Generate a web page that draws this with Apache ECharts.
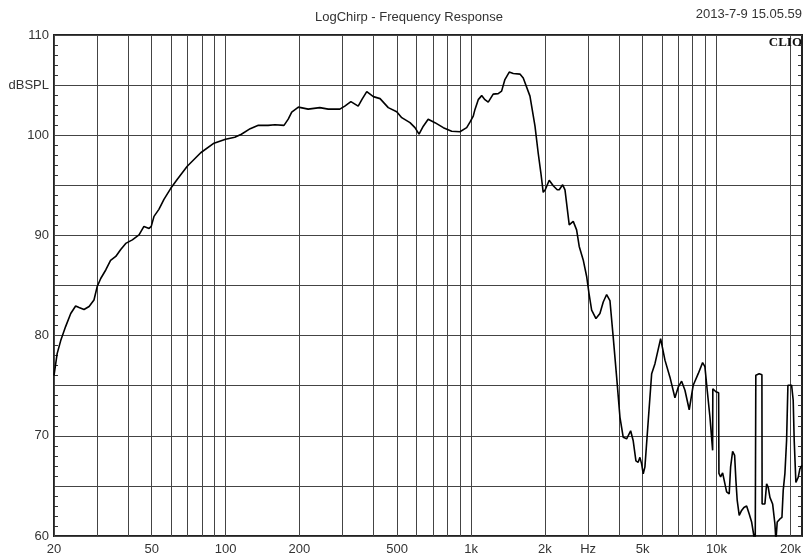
<!DOCTYPE html>
<html>
<head>
<meta charset="utf-8">
<script src="https://cdn.jsdelivr.net/npm/echarts@6/dist/echarts.min.js"></script>
<style>
html,body{margin:0;padding:0;background:#fff;}
#chart{width:808px;height:558px;}
</style>
</head>
<body>
<div id="chart"></div>
<script>
// Frequency (Hz)
const freqs = [
  20, 20.6, 21.3, 22.3, 23.4, 24.5, 25.3, 26.5, 27.8, 29.1,
  30.0, 31.0, 32.5, 34.0, 35.7, 37.4, 39.2, 41.7, 44.4, 46.5,
  48.8, 49.8, 51.1, 53.5, 56.1, 59.8, 63.6, 69.8, 79.2, 89.7,
  100, 109, 116, 126, 136, 149, 159, 173, 180, 186,
  198, 217, 242, 262, 292, 306, 324, 347, 360, 376,
  400, 426, 460, 498, 522, 564, 591, 614, 639, 669,
  713, 771, 834, 901, 960, 990, 1021, 1037, 1070, 1105,
  1139, 1175, 1231, 1290, 1332, 1374, 1431, 1486, 1582, 1632,
  1738, 1822, 1878, 1926, 1968, 2006, 2082, 2162, 2244, 2287,
  2362, 2414, 2512, 2608, 2692, 2759, 2864, 2958, 3022, 3100,
  3228, 3350, 3456, 3568, 3680, 3795, 3919, 4043, 4169, 4304,
  4469, 4578, 4696, 4797, 4875, 4954, 5029, 5110, 5273, 5443,
  5614, 5921, 6166, 6462, 6771, 6982, 7210, 7438, 7742, 8038,
  8424, 8778, 8969, 9165, 9400, 9643, 9660, 9944, 10200, 10230,
  10394, 10590, 10720, 10995, 11266, 11416, 11632, 11852, 11996, 12144,
  12374, 12656, 12932, 13264, 13592, 13900, 14202, 14376, 14440, 14460,
  14926, 15310, 15340, 15746, 16002, 16244, 16506, 16928, 17298, 17460,
  17674, 18128, 18472, 18698, 18998, 19300, 19540, 19776, 20226, 20532,
  20726, 21058, 21518, 21864, 22276
];
// Sound pressure level (dBSPL)
const spl = [
  76.0, 78.2, 79.5, 80.9, 82.2, 82.95, 82.8, 82.6, 82.9, 83.55,
  84.9, 85.7, 86.55, 87.5, 87.9, 88.6, 89.2, 89.55, 90.05, 90.9,
  90.7, 90.9, 91.9, 92.6, 93.6, 94.7, 95.6, 96.9, 98.25, 99.2,
  99.6, 99.8, 100.1, 100.65, 101.0, 100.98, 101.05, 100.98, 101.6, 102.3,
  102.8, 102.6, 102.75, 102.6, 102.6, 102.9, 103.35, 102.9, 103.6, 104.35,
  103.85, 103.65, 102.75, 102.35, 101.75, 101.25, 100.75, 100.1, 100.9, 101.6,
  101.25, 100.75, 100.4, 100.35, 100.75, 101.3, 101.9, 102.55, 103.55, 103.95,
  103.55, 103.3, 104.1, 104.15, 104.4, 105.55, 106.3, 106.15, 106.1, 105.7,
  103.9, 100.9, 98.2, 96.2, 94.3, 94.55, 95.5, 94.95, 94.55, 94.55,
  95.05, 94.55, 91.05, 91.4, 90.55, 88.9, 87.55, 85.9, 84.25, 82.55,
  81.7, 82.2, 83.35, 84.1, 83.5, 79.85, 75.85, 71.85, 69.85, 69.7,
  70.5, 69.5, 67.5, 67.35, 67.85, 67.2, 66.2, 66.9, 71.55, 76.2,
  77.2, 79.7, 77.55, 75.85, 73.8, 74.85, 75.45, 74.55, 72.6, 75.05,
  76.2, 77.3, 76.9, 74.55, 71.9, 68.55, 74.7, 74.4, 74.3, 66.25,
  65.9, 66.3, 66.25, 64.4, 64.2, 66.9, 68.45, 68.05, 65.55, 63.55,
  62.05, 62.55, 62.85, 63.0, 62.2, 61.4, 60.0, 58.0, 58.0, 76.05,
  76.2, 76.1, 63.2, 63.2, 65.2, 64.85, 63.85, 63.2, 61.2, 59.5,
  61.4, 61.7, 61.85, 64.55, 66.25, 69.55, 75.05, 75.2, 75.05, 73.55,
  69.55, 65.35, 65.85, 66.7, 67.05
];
// Vertical grid positions (Hz)
const xGridValues = [20, 30, 40, 50, 60, 70, 80, 90, 100, 200, 300, 400, 500, 600, 700, 800, 900,
  1000, 2000, 3000, 4000, 5000, 6000, 7000, 8000, 9000, 10000, 20000];
// X tick labels
const xLabelValues = [20, 50, 100, 200, 500, 1000, 2000, 3000, 5000, 10000, 20000];
const xLabelTexts = ['20', '50', '100', '200', '500', '1k', '2k', 'Hz', '5k', '10k', '20k'];
// Y tick labels
const yLabelValues = [60, 70, 80, 90, 100, 105, 110];
const yLabelTexts = ['60', '70', '80', '90', '100', 'dBSPL', '110'];

const labelMapX = {};
xLabelValues.forEach((v, i) => { labelMapX[v] = xLabelTexts[i]; });
const labelMapY = {};
yLabelValues.forEach((v, i) => { labelMapY[v] = yLabelTexts[i]; });

const FONT = '"Liberation Sans", Arial, sans-serif';
const GRID = '#444';

const chart = echarts.init(document.getElementById('chart'), null, { renderer: 'canvas' });
chart.setOption({
  animation: false,
  backgroundColor: '#fff',
  title: {
    text: 'LogChirp - Frequency Response',
    left: 310, top: 6,
    textStyle: { fontFamily: FONT, fontSize: 13, fontWeight: 'normal', color: '#333' }
  },
  graphic: [
    { type: 'text', right: 6, top: 8,
      style: { text: '2013-7-9 15.05.59', font: '13px ' + FONT, fill: '#333' } },
    { type: 'text', right: 6, top: 36, z: 100,
      style: { text: 'CLIO', font: 'bold 13px "Liberation Serif", "Times New Roman", serif', fill: '#111' } }
  ],
  grid: {
    left: 54, right: 6, top: 35, bottom: 22,
    show: true, borderColor: '#222', borderWidth: 2, backgroundColor: 'transparent'
  },
  xAxis: {
    type: 'log', logBase: 10, min: 20, max: 22300,
    axisLine: { show: false },
    axisTick: { show: false, customValues: xGridValues },
    minorTick: { show: false },
    axisLabel: {
      customValues: xLabelValues,
      margin: 7,
      fontFamily: FONT, fontSize: 13, color: '#333',
      formatter: v => labelMapX[Math.round(v)] !== undefined ? labelMapX[Math.round(v)] : ''
    },
    splitLine: { show: true, lineStyle: { color: GRID, width: 1 } }
  },
  yAxis: [{
    type: 'value', min: 60, max: 110, interval: 5,
    axisLine: { show: false },
    axisTick: { show: false, inside: true },
    minorTick: { show: true, splitNumber: 5, length: 4, lineStyle: { color: '#333', width: 1 } },
    axisLabel: {
      margin: 5, fontFamily: FONT, fontSize: 13, color: '#333',
      formatter: v => labelMapY[v] !== undefined ? labelMapY[v] : ''
    },
    splitLine: { show: true, lineStyle: { color: GRID, width: 1 } }
  }, {
    type: 'value', min: 60, max: 110, interval: 5, position: 'right',
    axisLine: { show: false },
    axisTick: { show: false, inside: true },
    minorTick: { show: true, splitNumber: 5, length: 4, lineStyle: { color: '#333', width: 1 } },
    axisLabel: { show: false },
    splitLine: { show: false }
  }],
  series: [{
    type: 'line',
    data: freqs.map((f, i) => [f, spl[i]]),
    showSymbol: false,
    clip: true,
    lineStyle: { color: '#000', width: 1.6 },
    z: 5
  }]
});
</script>
</body>
</html>
